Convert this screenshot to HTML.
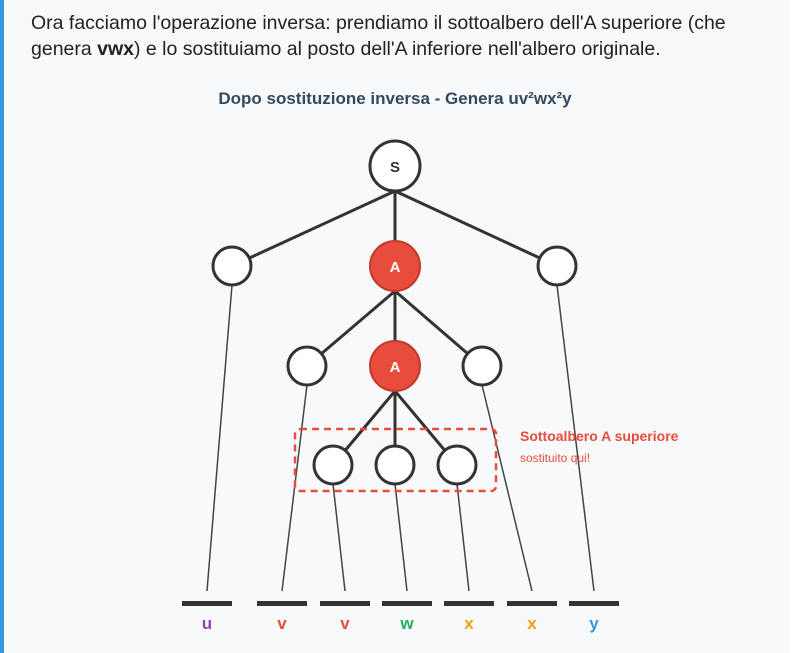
<!DOCTYPE html>
<html><head><style>
html,body{margin:0;padding:0;background:#fff;}
.box{position:absolute;left:0;top:0;width:789px;height:653px;background:#f8f9fa;border-left:4px solid #3498db;box-sizing:border-box;}
.p{position:absolute;left:31px;top:10px;font:19.5px/26px "Liberation Sans",sans-serif;color:#222;width:720px;}
</style></head><body>
<div class="box"></div>
<div class="p">Ora facciamo l'operazione inversa: prendiamo il sottoalbero dell'A superiore (che genera <b>vwx</b>) e lo sostituiamo al posto dell'A inferiore nell'albero originale.</div>
<svg width="802" height="653" style="position:absolute;left:0;top:0" font-family="Liberation Sans, sans-serif">
<text x="395" y="104" text-anchor="middle" font-size="17" font-weight="bold" fill="#34495e">Dopo sostituzione inversa - Genera uv²wx²y</text>
<g stroke="#333" stroke-width="3" fill="none">
<line x1="395" y1="191" x2="232" y2="266"/><line x1="395" y1="191" x2="395" y2="266"/><line x1="395" y1="191" x2="557" y2="266"/>
<line x1="395" y1="291" x2="307" y2="366"/><line x1="395" y1="291" x2="395" y2="366"/><line x1="395" y1="291" x2="482" y2="366"/>
<line x1="395" y1="391" x2="333" y2="465"/><line x1="395" y1="391" x2="395" y2="465"/><line x1="395" y1="391" x2="457" y2="465"/>
</g>
<g stroke="#444" stroke-width="1.5">
<line x1="232" y1="285" x2="207" y2="591"/><line x1="307" y1="385" x2="282" y2="591"/>
<line x1="333" y1="484" x2="345" y2="591"/><line x1="395" y1="484" x2="407" y2="591"/><line x1="457" y1="484" x2="469" y2="591"/>
<line x1="482" y1="385" x2="532" y2="591"/><line x1="557" y1="285" x2="594" y2="591"/>
</g>
<rect x="295" y="429" width="201" height="62" rx="5" fill="none" stroke="#e74c3c" stroke-width="2.5" stroke-dasharray="7,5"/>
<g stroke="#333" stroke-width="3" fill="#fff">
<circle cx="395" cy="166" r="25"/>
<circle cx="232" cy="266" r="19"/><circle cx="557" cy="266" r="19"/>
<circle cx="307" cy="366" r="19"/><circle cx="482" cy="366" r="19"/>
<circle cx="333" cy="465" r="19"/><circle cx="395" cy="465" r="19"/><circle cx="457" cy="465" r="19"/>
</g>
<g fill="#e74c3c" stroke="#c0392b" stroke-width="2">
<circle cx="395" cy="266" r="25"/><circle cx="395" cy="366" r="25"/>
</g>
<g font-weight="bold" font-size="15" text-anchor="middle">
<text x="395" y="172" fill="#333">S</text>
<text x="395" y="272" fill="#fff">A</text>
<text x="395" y="372" fill="#fff">A</text>
</g>
<text x="520" y="441" font-size="14" font-weight="bold" fill="#e74c3c">Sottoalbero A superiore</text>
<text x="520" y="462" font-size="12" fill="#e74c3c">sostituito qui!</text>
<g fill="#333">
<rect x="182" y="601" width="50" height="5"/><rect x="257" y="601" width="50" height="5"/><rect x="320" y="601" width="50" height="5"/>
<rect x="382" y="601" width="50" height="5"/><rect x="444" y="601" width="50" height="5"/><rect x="507" y="601" width="50" height="5"/>
<rect x="569" y="601" width="50" height="5"/>
</g>
<g font-size="17" font-weight="bold" text-anchor="middle">
<text x="207" y="629" fill="#8e44ad">u</text>
<text x="282" y="629" fill="#e74c3c">v</text>
<text x="345" y="629" fill="#e74c3c">v</text>
<text x="407" y="629" fill="#27ae60">w</text>
<text x="469" y="629" fill="#f39c12">x</text>
<text x="532" y="629" fill="#f39c12">x</text>
<text x="594" y="629" fill="#3498db">y</text>
</g>
</svg>
</body></html>
